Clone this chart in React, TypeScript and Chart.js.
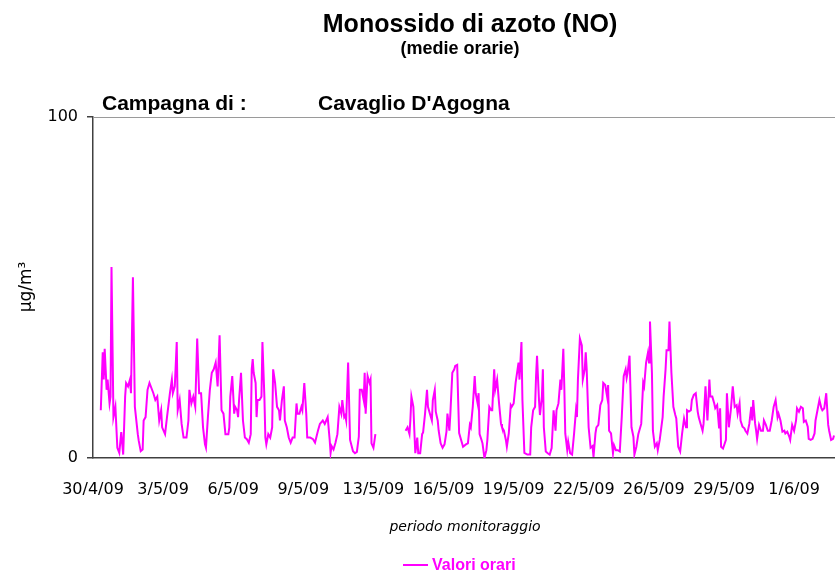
import React, { useEffect, useRef } from 'react';
import { Chart, registerables } from 'chart.js';

Chart.register(...registerables);

// ---- data -------------------------------------------------------------
const dateLabels = ['30/4/09', '3/5/09', '6/5/09', '9/5/09', '13/5/09', '16/5/09', '19/5/09', '22/5/09', '26/5/09', '29/5/09', '1/6/09'];
const LABEL_STEP = 72; // hourly rows between two date labels
const LAST_ROW = 762;
const yTickValues = [0, 100];

// hourly row index (from 30/4/09) of each reading
const hours = [
  8, 10, 11, 12, 14, 15, 17, 18, 19, 21, 23, 25, 27, 29, 31, 33, 34, 36, 38, 39, 41, 43, 46, 47, 49, 51, 52, 54, 56, 58,
  62, 64, 66, 68, 70, 71, 74, 76, 79, 81, 82, 84, 86, 87, 89, 91, 93, 96, 98, 99, 101, 103, 105, 107, 109, 111, 113, 115, 116, 118,
  120, 122, 124, 126, 128, 130, 132, 134, 136, 139, 140, 141, 143, 145, 146, 148, 149, 150, 152, 154, 156, 158, 160, 162, 163, 164, 165, 167, 168, 169,
  171, 173, 174, 176, 177, 178, 180, 182, 184, 185, 187, 189, 191, 192, 194, 196, 197, 199, 201, 203, 205, 207, 209, 210, 212, 214, 215, 217, 219, 220,
  223, 226, 228, 231, 233, 236, 238, 241, 243, 244, 245, 247, 249, 251, 253, 255, 256, 258, 259, 260, 262, 264, 267, 269, 271, 273, 274, 276, 278, 279,
  280, 282, 284, 285, 286, 288, 290, 305,
  321, 323, 325, 326, 327, 329, 330, 331, 333, 334, 336, 338, 339, 341, 343, 344, 346, 348, 349, 351, 352, 354, 355, 357, 359, 361, 363, 364, 366, 367,
  369, 371, 372, 374, 375, 376, 379, 380, 383, 385, 386, 387, 388, 390, 392, 393, 395, 396, 397, 399, 400, 402, 404, 405, 407, 409, 410, 412, 413, 415,
  417, 419, 420, 422, 424, 425, 427, 429, 430, 432, 434, 436, 437, 438, 440, 441, 443, 446, 449, 450, 452, 454, 455, 456, 458, 459, 461, 462, 463, 465,
  467, 469, 471, 473, 475, 476, 478, 480, 481, 483, 484, 485, 487, 488, 490, 492, 494, 496, 497, 498, 500, 502, 503, 505, 506, 507, 509, 511, 513, 514,
  516, 517, 519, 521, 523, 524, 526, 528, 529, 530, 532, 534, 535, 537, 539, 541, 543, 545, 547, 548, 549, 551, 553, 555, 556, 558, 560, 561, 563, 565,
  566, 568, 570, 571, 572, 574, 575, 577, 579, 580, 582, 585, 586, 588, 589, 591, 592, 594, 596, 598, 599, 601, 603, 605, 607, 609, 610, 612, 614, 615,
  617, 619, 621, 622, 624, 626, 627, 629, 631, 633, 634, 636, 638, 639, 641, 643, 644, 645, 647, 650, 651, 653, 655, 657, 659, 661, 662, 664, 665, 667,
  669, 670, 672, 674, 676, 677, 678, 680, 681, 682, 684, 686, 688, 689, 691, 693, 695, 697, 699, 701, 703, 704, 706, 708, 710, 711, 713, 715, 716, 718,
  720, 722, 723, 725, 727, 729, 730, 732, 734, 735, 737, 739, 741, 742, 744, 746, 748, 749, 751, 753, 755, 756, 758, 760, 761,
];

// NO hourly means, µg/m³ (null = missing data)
const values = [
  14, 31, 23, 32, 20, 23, 16, 18, 56, 12, 15, 3, 1.5, 7.6, 1, 18, 22, 21, 23, 19, 53, 15, 7, 5, 2, 2.5, 11, 12, 20, 22,
  19, 17, 18, 11, 14, 9, 7, 12, 19, 23, 19, 21, 34, 14, 17, 10, 6, 6, 11, 20, 16, 18, 15, 35, 19, 19, 9, 4, 3, 12,
  20, 25, 26, 28, 21, 36, 14, 13, 7, 7, 9, 18, 24, 13, 15, 14, 12, 17, 25, 11, 6, 5.5, 4.5, 7, 26, 29, 25, 22, 12, 17,
  17, 18, 34, 18, 6, 4, 7, 6, 9, 26, 22, 15, 14, 11, 17, 21, 11, 9, 6, 4.5, 6, 6, 16, 13, 13, 15, 14, 22, 13, 6,
  6, 5.5, 4.5, 8, 10, 11, 10, 12, 5.5, 1.5, 3.5, 2.5, 4.5, 7, 15, 13, 17, 12, 12.5, 11, 28, 5.3, 2, 1.4, 1.8, 6.3, 20, 20, 17, 25,
  13, 24, 22, 23, 4.3, 3, 7, null,
  8, 9, 7, 11.5, 18, 15, 8, 1.4, 6, 1.4, 1.4, 7, 7.5, 13, 20, 15, 13, 11, 17, 20, 13.6, 11, 8, 4.3, 3, 4, 7.7, 13, 8, 13,
  25, 26, 27, 27.3, 17, 7.3, 4.3, 3.3, 4, 4.3, 7, 9.7, 9, 15, 24, 19, 16, 19, 7, 5.3, 4.3, 0, 2.3, 5.3, 15, 14, 14, 26, 20, 23,
  16, 10, 9, 8, 5.3, 3.3, 7.2, 15.5, 15, 16, 22, 26, 28, 23, 34, 17, 1.5, 1, 1, 9, 14, 15, 24, 30, 17, 12.6, 18, 26, 9, 1.9,
  1.4, 1, 2.9, 14, 8, 14, 16, 23, 20, 32, 21, 7.2, 2.4, 4.8, 1.4, 1, 7, 14, 12, 23, 35, 33, 23, 26, 31, 26, 9, 3, 3.5, 0.3,
  7.2, 9, 9.7, 15.5, 17, 22, 21.4, 18, 21.4, 8, 7.2, 1.4, 3.8, 2.3, 2.3, 1.9, 12, 24, 26, 23.5, 25, 30, 9, 6.2, 1, 3.3, 7, 8, 10, 22,
  21, 28, 31, 28, 40, 25, 8, 3.3, 4.3, 2.3, 5.3, 12, 18, 26, 31.6, 31.6, 40, 25, 15, 12.6, 11.6, 3.3, 1.9, 7.2, 11.6, 9, 14, 13.6, 14, 17,
  18.5, 19, 13.6, 12, 10, 8, 10, 21, 11, 23, 18, 18, 16, 14.6, 15.5, 8.7, 14.6, 3.3, 2.8, 5.3, 19, 9, 14, 21, 15, 15.5, 13, 16, 11, 9.2,
  8.7, 8, 7.2, 10, 15, 11, 17, 10, 8, 5.6, 9.7, 8, 8, 11, 9.7, 8, 8, 11, 15, 17, 12, 13, 11, 7.7, 8, 7.2, 7.7, 6.3, 5.3, 9.7,
  8, 11, 14.6, 13.6, 15, 14.6, 10.6, 11, 9.2, 5.6, 5.3, 5.6, 7.2, 11, 14, 17, 14.6, 14, 14.6, 19, 9.7, 8, 5.3, 5.6, 6.6,
];

const seriesName = 'Valori orari';
const titleText = 'Monossido di azoto (NO)';
const subtitleText = '(medie orarie)';
const campaignLabel = 'Campagna di :';
const campaignName = "Cavaglio D'Agogna";
const yAxisTitle = 'µg/m³';
const xAxisTitle = 'periodo monitoraggio';

const MAGENTA = '#FF00FF';
const AXIS = '#404040';

const textPlugin = {
  id: 'extraTexts',
  afterDraw(chart: any) {
    const { ctx, chartArea } = chart;
    ctx.save();
    // top border of the plot area
    ctx.strokeStyle = '#9a9a9a';
    ctx.lineWidth = 1;
    ctx.beginPath();
    ctx.moveTo(chartArea.left, chartArea.top + 0.5);
    ctx.lineTo(chartArea.right, chartArea.top + 0.5);
    ctx.stroke();

    ctx.fillStyle = '#000';
    ctx.textBaseline = 'alphabetic';
    ctx.textAlign = 'center';
    ctx.font = 'bold 25px "Liberation Sans", Arial, sans-serif';
    ctx.fillText(titleText, 470, 32);
    ctx.font = 'bold 18px "Liberation Sans", Arial, sans-serif';
    ctx.fillText(subtitleText, 460, 54);

    ctx.textAlign = 'left';
    ctx.font = 'bold 21px "Liberation Sans", Arial, sans-serif';
    ctx.fillText(campaignLabel, 102, 110);
    ctx.fillText(campaignName, 318, 110);

    ctx.textAlign = 'center';
    ctx.font = 'italic 14px "DejaVu Sans", sans-serif';
    ctx.fillText(xAxisTitle, 465, 531);

    // y axis title
    ctx.save();
    ctx.translate(31, 287);
    ctx.rotate(-Math.PI / 2);
    ctx.font = '17px "DejaVu Sans", sans-serif';
    ctx.textAlign = 'center';
    ctx.fillText(yAxisTitle, 0, 0);
    ctx.restore();

    // legend
    ctx.strokeStyle = MAGENTA;
    ctx.lineWidth = 2;
    ctx.beginPath();
    ctx.moveTo(403, 565);
    ctx.lineTo(428, 565);
    ctx.stroke();
    ctx.fillStyle = MAGENTA;
    ctx.textAlign = 'left';
    ctx.font = 'bold 16px "Liberation Sans", Arial, sans-serif';
    ctx.fillText(seriesName, 432, 570);
    ctx.restore();
  },
};

export default function App() {
  const canvasRef = useRef<HTMLCanvasElement | null>(null);

  useEffect(() => {
    if (!canvasRef.current) return;
    const points = hours.map((h, i) => ({ x: h, y: values[i] }));
    const chart = new Chart(canvasRef.current, {
      type: 'line',
      data: {
        datasets: [
          {
            label: seriesName,
            data: points as any,
            borderColor: MAGENTA,
            backgroundColor: MAGENTA,
            borderWidth: 2,
            pointRadius: 0,
            tension: 0,
            spanGaps: false,
          },
        ],
      },
      options: {
        animation: false,
        responsive: false,
        devicePixelRatio: 1,
        layout: { padding: { top: 117, left: 0, right: 0, bottom: 0 } },
        plugins: {
          legend: { display: false },
          title: { display: false },
          tooltip: { enabled: false },
        },
        scales: {
          x: {
            type: 'linear',
            min: 0,
            max: LAST_ROW,
            grid: { display: true, drawOnChartArea: false, drawTicks: false },
            border: { display: true, color: AXIS, width: 1.5 },
            afterBuildTicks: (scale: any) => {
              scale.ticks = dateLabels.map((_, i) => ({ value: i * LABEL_STEP }));
            },
            afterFit: (scale: any) => {
              scale.height = 115;
              scale.paddingLeft = 0;
              scale.paddingRight = 0;
            },
            ticks: {
              autoSkip: false,
              maxRotation: 0,
              minRotation: 0,
              padding: 22,
              color: '#000',
              font: { family: '"DejaVu Sans", sans-serif', size: 16 },
              callback: (_v: any, index: number) => dateLabels[index],
            },
          },
          y: {
            type: 'linear',
            min: 0,
            max: 100,
            afterBuildTicks: (scale: any) => {
              scale.ticks = yTickValues.map((v) => ({ value: v }));
            },
            afterFit: (scale: any) => {
              scale.width = 93;
            },
            grid: { drawOnChartArea: false, drawTicks: true, tickLength: 6, color: AXIS, lineWidth: 1.5 },
            border: { display: true, color: AXIS, width: 1.5 },
            ticks: {
              padding: 9,
              color: '#000',
              font: { family: '"DejaVu Sans", sans-serif', size: 16 },
            },
          },
        },
      },
      plugins: [textPlugin],
    });
    return () => chart.destroy();
  }, []);

  return (
    <div style={{ position: 'fixed', left: 0, top: 0, width: 835, height: 573, background: '#fff' }}>
      <canvas ref={canvasRef} width={835} height={573} style={{ display: 'block' }} />
    </div>
  );
}
